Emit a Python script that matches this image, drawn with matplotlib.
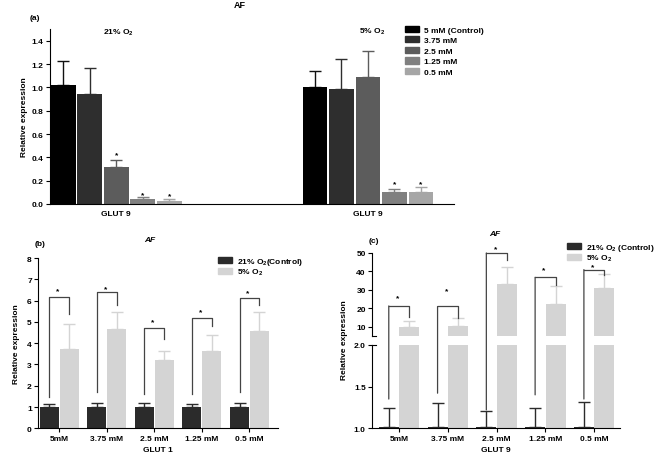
import matplotlib
matplotlib.use("Agg")
import matplotlib.pyplot as plt
from matplotlib.patches import Patch, ConnectionPatch

plt.rcParams["font.family"] = ["Liberation Sans", "DejaVu Sans"]
plt.rcParams["font.weight"] = "bold"
plt.rcParams["mathtext.fontset"] = "custom"
plt.rcParams["mathtext.rm"] = "Liberation Sans:bold"
plt.rcParams["mathtext.bf"] = "Liberation Sans:bold"
plt.rcParams["mathtext.default"] = "bf"

# ----------------------------
# data
# ----------------------------
conc_labels = ["5 mM (Control)", "3.75 mM", "2.5 mM", "1.25 mM", "0.5 mM"]
a_21_vals = [1.02, 0.94, 0.32, 0.045, 0.03]
a_21_err = [0.21, 0.225, 0.055, 0.015, 0.015]
a_5_vals = [1.00, 0.99, 1.09, 0.10, 0.105]
a_5_err = [0.14, 0.255, 0.22, 0.025, 0.042]
a_21_star = [None, None, 0.45, 0.11, 0.10]
a_5_star = [None, None, None, 0.20, 0.20]

groups = ["5mM", "3.75 mM", "2.5 mM", "1.25 mM", "0.5 mM"]
b_ctrl = [1.0, 1.0, 1.0, 1.0, 1.0]
b_ctrl_err = [0.15, 0.2, 0.17, 0.12, 0.2]
b_hyp = [3.72, 4.67, 3.2, 3.62, 4.58]
b_hyp_err = [1.2, 0.81, 0.45, 0.78, 0.89]
b_bracket = [6.15, 6.38, 4.71, 5.16, 6.12]
b_left_end = [1.45, 1.69, 1.6, 1.6, 1.69]
b_right_end = [5.37, 5.79, 4.19, 4.79, 5.79]
b_star = [6.6, 6.7, 5.16, 5.65, 6.54]

c_ctrl = [1.01, 1.02, 1.01, 1.01, 1.02]
c_ctrl_err = [0.23, 0.28, 0.2, 0.23, 0.29]
c_hyp = [10.0, 10.5, 33.2, 22.3, 30.9]
c_hyp_err = [3.3, 4.4, 9.4, 10.0, 7.6]
c_bracket = [21.3, 21.0, 50.0, 36.8, 41.0]
c_left_end = [1.35, 1.42, 1.22, 1.4, 1.35]
c_right_end = [15.1, 14.6, 46.0, 32.6, 38.2]
c_star = [27.7, 31.3, 54.0, 42.6, 44.4]

a_colors = ["#000000", "#2e2e2e", "#5c5c5c", "#808080", "#a6a6a6"]
dark = "#2b2b2b"
light = "#d4d4d4"
brk = "#444444"

W, H = 659, 456
fig = plt.figure(figsize=(W / 100, H / 100), dpi=100)


def fx(px):
    return px / W


def fy(py):
    return 1 - py / H


def style(ax):
    ax.spines["top"].set_visible(False)
    ax.spines["right"].set_visible(False)
    ax.tick_params(labelsize=6, width=0.8, length=3, pad=1.5)
    for lab in ax.get_xticklabels() + ax.get_yticklabels():
        lab.set_fontweight("bold")


def star(ax, x, y):
    # place the asterisk glyph centre at y
    ax.annotate("*", (x, y), xytext=(0, -3.5), textcoords="offset points",
                ha="center", va="baseline", fontsize=6, annotation_clip=False)


# ----------------------------
# (a)
# ----------------------------
axa = fig.add_axes([fx(50), fy(205), fx(454) - fx(50), fy(30) - fy(205)])
bw = 0.93
for i in range(5):
    for x0, vals, errs, stars in [(0, a_21_vals, a_21_err, a_21_star), (9.5, a_5_vals, a_5_err, a_5_star)]:
        x = x0 + i
        axa.bar(x, vals[i], width=bw, color=a_colors[i], zorder=2)
        axa.errorbar(x, vals[i], yerr=[[0], [errs[i]]], color=a_colors[i] if i > 0 else "#111111",
                     capsize=4.5, elinewidth=1.0, capthick=1.0, fmt="none", zorder=1)
        if stars[i] is not None:
            star(axa, x, stars[i])
axa.set_xlim(-0.5, 14.75)
axa.set_ylim(0, 1.5)
axa.set_yticks([0, 0.2, 0.4, 0.6, 0.8, 1.0, 1.2, 1.4])
axa.set_yticklabels(["0.0", "0.2", "0.4", "0.6", "0.8", "1.0", "1.2", "1.4"])
axa.set_xticks([2, 11.5])
axa.set_xticklabels(["GLUT 9", "GLUT 9"])
axa.set_ylabel("Relative expression", fontsize=6, fontweight="bold", labelpad=3)
style(axa)
axa.tick_params(axis="x", length=0, pad=4)

handles = [Patch(color=c) for c in a_colors]
fig.legend(handles, conc_labels, loc="upper left", bbox_to_anchor=(fx(405), fy(26.5)),
           frameon=False, fontsize=6, handlelength=1.7, handleheight=0.8,
           labelspacing=0.3, handletextpad=0.6, borderpad=0, borderaxespad=0)

fig.text(fx(240), fy(6), "AF", ha="center", va="center", fontsize=6.5, fontweight="bold")
fig.text(fx(35), fy(18), "(a)", ha="center", va="center", fontsize=6, fontweight="bold")
fig.text(fx(118), fy(33), "21% O$_2$", ha="center", va="center", fontsize=6)
fig.text(fx(372), fy(32), "5% O$_2$", ha="center", va="center", fontsize=6)

# ----------------------------
# (b)
# ----------------------------
axb = fig.add_axes([fx(38), fy(429.3), fx(278) - fx(38), fy(259) - fy(429.3)])
off = 0.21
wb = 0.4
for i in range(5):
    axb.bar(i - off, b_ctrl[i], width=wb, color=dark, zorder=2)
    axb.bar(i + off, b_hyp[i], width=wb, color=light, zorder=2)
    axb.errorbar(i - off, b_ctrl[i], yerr=[[0], [b_ctrl_err[i]]], color=dark, capsize=4,
                 elinewidth=1.0, capthick=1.0, fmt="none", zorder=1)
    axb.errorbar(i + off, b_hyp[i], yerr=[[0], [b_hyp_err[i]]], color=light, capsize=4,
                 elinewidth=1.0, capthick=1.0, fmt="none", zorder=1)
    axb.plot([i - off, i - off, i + off, i + off],
             [b_left_end[i], b_bracket[i], b_bracket[i], b_right_end[i]],
             color=brk, lw=0.9, zorder=3)
    star(axb, i - 0.03, b_star[i])
axb.set_xlim(-0.45, 4.6)
axb.set_ylim(0, 8)
axb.set_yticks(range(0, 9))
axb.set_xticks(range(5))
axb.set_xticklabels(groups)
axb.set_xlabel("GLUT 1", fontsize=6, fontweight="bold", labelpad=3)
axb.set_ylabel("Relative expression", fontsize=6, fontweight="bold", labelpad=5)
style(axb)
axb.legend([Patch(color=dark), Patch(color=light)], ["21% O$_2$(Control)", "5% O$_2$"],
           loc="upper left", bbox_to_anchor=(fx(218), fy(257)), bbox_transform=fig.transFigure,
           frameon=False, fontsize=6, handlelength=1.7, handleheight=0.8,
           labelspacing=0.0, handletextpad=0.6, borderpad=0, borderaxespad=0)
fig.text(fx(150), fy(241), "AF", ha="center", va="center", fontsize=6, fontweight="bold", style="italic")
fig.text(fx(40), fy(245), "(b)", ha="center", va="center", fontsize=6, fontweight="bold")

# ----------------------------
# (c) broken axis
# ----------------------------
cl, cr = fx(372), fx(620)
axc_lo = fig.add_axes([cl, fy(429.3), cr - cl, fy(345.7) - fy(429.3)])
axc_hi = fig.add_axes([cl, fy(337), cr - cl, fy(254) - fy(337)])
wc = 0.41
for ax in (axc_lo, axc_hi):
    for i in range(5):
        ax.bar(i - off, c_ctrl[i], width=wc, color=dark, zorder=2)
        ax.bar(i + off, c_hyp[i], width=wc, color=light, zorder=2)
        ax.errorbar(i - off, c_ctrl[i], yerr=[[0], [c_ctrl_err[i]]], color=dark, capsize=4,
                    elinewidth=1.0, capthick=1.0, fmt="none", zorder=1)
        ax.errorbar(i + off, c_hyp[i], yerr=[[0], [c_hyp_err[i]]], color=light, capsize=4,
                    elinewidth=1.0, capthick=1.0, fmt="none", zorder=1)
    ax.set_xlim(-0.554, 4.53)
    style(ax)

axc_lo.set_ylim(1.0, 2.0)
axc_lo.set_yticks([1.0, 1.5, 2.0])
axc_lo.set_yticklabels(["1.0", "1.5", "2.0"])
axc_lo.spines["top"].set_visible(False)
axc_lo.set_xticks(range(5))
axc_lo.set_xticklabels(groups)
axc_lo.set_xlabel("GLUT 9", fontsize=6, fontweight="bold", labelpad=3)

axc_hi.set_ylim(5, 50)
axc_hi.set_yticks([10, 20, 30, 40, 50])
axc_hi.spines["bottom"].set_visible(False)
axc_hi.set_xticks([])

# break marks
axc_hi.plot([0, 0.018], [0, 0], transform=axc_hi.transAxes, color="black", lw=0.8, clip_on=False)
axc_lo.plot([0, 0.018], [1, 1], transform=axc_lo.transAxes, color="black", lw=0.8, clip_on=False)

for i in range(5):
    con = ConnectionPatch(xyA=(i - off, c_left_end[i]), coordsA=axc_lo.transData,
                          xyB=(i - off, c_bracket[i]), coordsB=axc_hi.transData,
                          color=brk, lw=0.9, zorder=3)
    fig.add_artist(con)
    axc_hi.plot([i - off, i + off, i + off], [c_bracket[i], c_bracket[i], c_right_end[i]],
                color=brk, lw=0.9, zorder=3, clip_on=False)
    star(axc_hi, i - 0.03, c_star[i])

fig.text(fx(345), fy(340), "Relative expression", rotation=90, ha="center", va="center",
         fontsize=6, fontweight="bold")
axc_hi.legend([Patch(color=dark), Patch(color=light)], ["21% O$_2$ (Control)", "5% O$_2$"],
              loc="upper left", bbox_to_anchor=(fx(567), fy(243)), bbox_transform=fig.transFigure,
              frameon=False, fontsize=6, handlelength=1.7, handleheight=0.8,
              labelspacing=0.0, handletextpad=0.6, borderpad=0, borderaxespad=0)
fig.text(fx(495), fy(234), "AF", ha="center", va="center", fontsize=6, fontweight="bold", style="italic")
fig.text(fx(374), fy(242), "(c)", ha="center", va="center", fontsize=6, fontweight="bold")

fig.savefig("out.png", dpi=100)
